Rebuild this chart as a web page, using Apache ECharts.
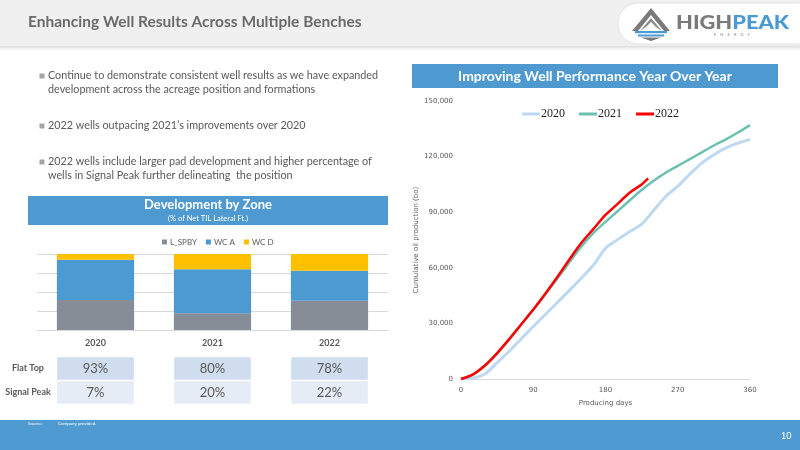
<!DOCTYPE html>
<html><head><meta charset="utf-8">
<script src="https://cdn.jsdelivr.net/npm/echarts@6/dist/echarts.min.js"></script>
<style>html,body{margin:0;padding:0;background:#fff}#c{width:800px;height:450px}</style>
</head><body><div id="c"></div>
<script>
// ---- Development by Zone (% of Net TIL Lateral Ft.) ----
const zoneYears = ['2020', '2021', '2022'];
const lSpby = [39.5, 22, 38.5];
const wcA = [53, 58, 39.5];
const wcD = [7.5, 20, 22];
// ---- Table ----
const tableRows = ['Signal Peak', 'Flat Top'];
const flatTop = [93, 80, 78];
const signalPeak = [7, 20, 22];
// ---- Cumulative oil production (bo) vs producing days ----
const days = [0,15,30,45,60,75,90,105,120,135,150,165,180,195,210,225,240,255,270,285,300,315,330,345,360];
const prod2020 = [0,500,2800,8800,15000,21700,28300,34800,41300,47800,54500,61500,70500,75200,79500,83500,91000,98500,104000,110500,116500,121000,124700,127300,129300];
const prod2021 = [0,2400,7100,13700,21300,29300,37300,45700,54200,63000,71500,78800,84800,90500,96300,102000,107000,111300,115000,118600,122300,126000,129300,133000,137000];
const days2022 = [0,15,30,45,60,75,90,105,120,135,150,165,180,195,210,225,233];
const prod2022 = [0,2500,7400,14000,21500,29500,37500,46000,55000,64500,73500,81000,88500,94500,100500,105000,108300];
const lineYears = ['2020', '2021', '2022'];
const xTicks = [0, 90, 180, 270, 360];
const yTicks = [0, 30000, 60000, 90000, 120000, 150000];

const pair = (xs, ys) => xs.map((x, i) => [x, ys[i]]);
const F = 'Lato, "Open Sans", sans-serif';
const NUMF = '"DejaVu Sans", Verdana, sans-serif';
const gray = '#595959';
const boxBlue = '#4E9AD0';

const chart = echarts.init(document.getElementById('c'), null, {renderer: 'canvas'});

const bullets = [
  {y: 76, t: 'Continue to demonstrate consistent well results as we have expanded'},
  {y: 89.5, t: 'development across the acreage position and formations', nb: true},
  {y: 126, t: '2022 wells outpacing 2021\u2019s improvements over 2020'},
  {y: 162, t: '2022 wells include larger pad development and higher percentage of'},
  {y: 175.5, t: 'wells in Signal Peak further delineating  the position', nb: true}
];
const txt = (x, y, text, font, fill, align) => ({type: 'text', x: x, y: y,
  style: {text: text, font: font, fill: fill, align: align || 'left', verticalAlign: 'middle'}});

const graphics = [
  // header
  {type: 'rect', shape: {x: 0, y: 0, width: 800, height: 46}, style: {fill: '#F0F0F0'}, z: 0},
  {type: 'rect', shape: {x: 0, y: 46, width: 800, height: 5}, style: {fill: new echarts.graphic.LinearGradient(0,0,0,1,[{offset:0,color:'rgba(0,0,0,0.13)'},{offset:1,color:'rgba(0,0,0,0)'}])}, z: 0},
  txt(28, 22, 'Enhancing Well Results Across Multiple Benches', 'bold 15.5px ' + F, '#6B6B6B'),
  // logo
  {type: 'rect', shape: {x: 618, y: 3, width: 200, height: 41, r: 20}, style: {fill: '#fff', stroke: '#E2E2E2', lineWidth: 1}},
  {type: 'polygon', shape: {points: [[632,31],[651,8],[670,31],[664,31],[651,15],[638,31]]}, style: {fill: '#7A7A7A'}},
  {type: 'polygon', shape: {points: [[640,31],[651,18],[662,31],[656,27],[651,22],[646,27]]}, style: {fill: '#8C8C8C'}},
  {type: 'rect', shape: {x: 635, y: 31, width: 32, height: 2.2}, style: {fill: '#4A9BD5'}},
  {type: 'rect', shape: {x: 638, y: 34.5, width: 26, height: 2}, style: {fill: '#4A9BD5'}},
  {type: 'polygon', shape: {points: [[641,37.5],[661,37.5],[651,41]]}, style: {fill: '#7A7A7A'}},
  {type: 'text', x: 676, y: 22.5, scaleX: 1.15, style: {rich: {a: {font: '900 19px ' + F, fill: '#7A7A7A'}, b: {font: '900 19px ' + F, fill: '#4A9BD5'}}, text: '{a|HIGH}{b|PEAK}', verticalAlign: 'middle'}},
  txt(732, 35, 'E    N    E    R    G    Y', '4px ' + F, '#888', 'center'),
  // bullets
  ...bullets.map(b => txt(48, b.y, b.t, '10.8px ' + F, gray)),
  ...bullets.filter(b => !b.nb).map(b => ({type: 'rect', shape: {x: 39.5, y: b.y - 2.5, width: 5, height: 5}, style: {fill: '#A6A6A6'}})),
  // Development by Zone box
  {type: 'rect', shape: {x: 28, y: 196, width: 360, height: 29}, style: {fill: boxBlue}},
  txt(208, 205, 'Development by Zone', 'bold 13px ' + F, '#fff', 'center'),
  txt(208, 219, '(% of Net TIL Lateral Ft.)', '7.5px ' + F, '#fff', 'center'),
  // Performance box
  {type: 'rect', shape: {x: 412, y: 64, width: 366, height: 24}, style: {fill: boxBlue}},
  txt(595, 76, 'Improving Well Performance Year Over Year', 'bold 14px ' + F, '#fff', 'center'),
  // footer
  {type: 'rect', shape: {x: 0, y: 420, width: 800, height: 30}, style: {fill: '#4F9BD1'}},
  txt(28, 424, 'Source:', '4.5px ' + F, '#fff'),
  txt(58, 424, 'Company provided.', '4.5px ' + F, '#fff'),
  txt(781, 436, '10', '9px ' + F, '#fff')
];

const option = {
  animation: false,
  textStyle: {fontFamily: F},
  graphic: graphics,
  legend: [
    {data: ['L_SPBY', 'WC A', 'WC D'], left: 157, top: 233, icon: 'rect', itemWidth: 5, itemHeight: 5, itemGap: 9,
     textStyle: {fontSize: 8, color: gray, fontFamily: F, padding: [0,0,0,-2]}},
    {data: lineYears, left: 517, top: 103, icon: 'rect', itemWidth: 18, itemHeight: 3, itemGap: 14,
     textStyle: {fontSize: 12, color: '#222', fontFamily: '"Liberation Serif", "DejaVu Serif", serif', padding: [0,0,0,-4]}}
  ],
  grid: [
    {left: 37, width: 351, top: 254, height: 76},
    {left: 461, right: 50, top: 101, bottom: 71},
    {left: 37, width: 351, top: 356.5, height: 48}
  ],
  xAxis: [
    {type: 'category', gridIndex: 0, data: zoneYears, axisTick: {show: false},
     axisLine: {lineStyle: {color: '#D9D9D9'}},
     axisLabel: {fontSize: 9, fontWeight: 'bold', color: gray, margin: 9}},
    {type: 'value', gridIndex: 1, min: 0, max: 360, interval: 90, splitLine: {show: false},
     axisTick: {show: false}, axisLine: {lineStyle: {color: '#D9D9D9'}},
     axisLabel: {fontSize: 7, color: gray, fontFamily: NUMF, margin: 8,
       formatter: v => xTicks.includes(v) ? String(v) : ''},
     name: 'Producing days', nameLocation: 'middle', nameGap: 21,
     nameTextStyle: {fontSize: 7, color: gray, fontFamily: NUMF}},
    {type: 'category', gridIndex: 2, data: zoneYears, show: false}
  ],
  yAxis: [
    {type: 'value', gridIndex: 0, min: 0, max: 100, interval: 25, axisLabel: {show: false},
     axisLine: {show: false}, axisTick: {show: false}, splitLine: {lineStyle: {color: '#D9D9D9'}}},
    {type: 'value', gridIndex: 1, min: 0, max: 150000, interval: 30000, splitLine: {show: false},
     axisLine: {show: false}, axisTick: {show: false},
     axisLabel: {fontSize: 7, color: gray, fontFamily: NUMF, margin: 8,
       formatter: v => yTicks.includes(v) ? v.toLocaleString('en-US') : ''},
     name: 'Cumulative oil production (bo)', nameLocation: 'middle', nameGap: 37,
     nameTextStyle: {fontSize: 7, color: gray, fontFamily: NUMF}},
    {type: 'category', gridIndex: 2, data: tableRows, axisLine: {show: false}, axisTick: {show: false},
     axisLabel: {fontSize: 9, fontWeight: 'bold', color: gray, align: 'center', margin: 9}}
  ],
  series: [
    {name: 'L_SPBY', type: 'bar', stack: 'z', xAxisIndex: 0, yAxisIndex: 0, data: lSpby, barWidth: '66%', itemStyle: {color: '#878D96'}},
    {name: 'WC A', type: 'bar', stack: 'z', xAxisIndex: 0, yAxisIndex: 0, data: wcA, barWidth: '66%', itemStyle: {color: '#4B9AD2'}},
    {name: 'WC D', type: 'bar', stack: 'z', xAxisIndex: 0, yAxisIndex: 0, data: wcD, barWidth: '66%', itemStyle: {color: '#FFC000'}},
    {name: '2020', type: 'line', xAxisIndex: 1, yAxisIndex: 1, data: pair(days, prod2020), smooth: 0.3, showSymbol: false, symbol: 'none',
     lineStyle: {color: '#BDD9F2', width: 3}, itemStyle: {color: '#BDD9F2'}, z: 2},
    {name: '2021', type: 'line', xAxisIndex: 1, yAxisIndex: 1, data: pair(days, prod2021), smooth: 0.3, showSymbol: false, symbol: 'none',
     lineStyle: {color: '#6CC0AF', width: 2.5}, itemStyle: {color: '#6CC0AF'}, z: 3},
    {name: '2022', type: 'line', xAxisIndex: 1, yAxisIndex: 1, data: pair(days2022, prod2022), smooth: 0.3, showSymbol: false, symbol: 'none',
     lineStyle: {color: '#FF0000', width: 2.5}, itemStyle: {color: '#FF0000'}, z: 4},
    {type: 'custom', xAxisIndex: 2, yAxisIndex: 2,
     data: zoneYears.flatMap((y, i) => [[i, 1, flatTop[i]], [i, 0, signalPeak[i]]]),
     renderItem: (params, api) => {
       const c = api.coord([api.value(0), api.value(1)]);
       const s = api.size([1, 1]);
       const w = s[0] * 0.655, h = s[1] - 1.5;
       return {type: 'group', children: [
         {type: 'rect', shape: {x: c[0] - w / 2, y: c[1] - h / 2, width: w, height: h},
          style: {fill: api.value(1) === 1 ? '#CFDDEE' : '#E5ECF6'}},
         {type: 'text', style: {text: api.value(2) + '%', x: c[0], y: c[1], align: 'center', verticalAlign: 'middle',
          font: '13px ' + F, fill: gray}}
       ]};
     }}
  ]
};
chart.setOption(option);
</script>
</body></html>
